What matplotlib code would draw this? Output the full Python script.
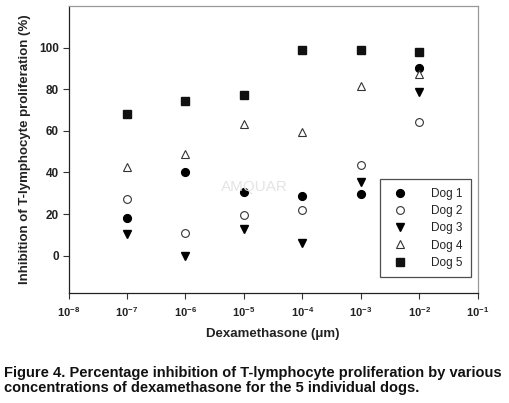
import matplotlib
matplotlib.use("Agg")
import matplotlib.pyplot as plt
from matplotlib import font_manager

# Dexamethasone concentrations (um) and % inhibition per dog
conc = [1e-7, 1e-6, 1e-5, 1e-4, 1e-3, 1e-2]
dog1 = [18.2, 40.2, 30.4, 28.6, 29.6, 90.4]
dog2 = [27.2, 11.0, 19.4, 22.1, 43.8, 64.2]
dog3 = [10.4, -0.2, 12.8, 5.9, 35.5, 78.6]
dog4 = [42.4, 48.8, 63.2, 59.4, 81.8, 87.5]
dog5 = [68.0, 74.4, 77.3, 98.9, 99.0, 98.1]

x_ticks = [1e-8, 1e-7, 1e-6, 1e-5, 1e-4, 1e-3, 1e-2, 1e-1]
x_tick_labels = ["$10^{-8}$", "$10^{-7}$", "$10^{-6}$", "$10^{-5}$",
                 "$10^{-4}$", "$10^{-3}$", "$10^{-2}$", "$10^{-1}$"]
y_ticks = [0, 20, 40, 60, 80, 100]

names = {f.name for f in font_manager.fontManager.ttflist}
base_font = "Liberation Sans" if "Liberation Sans" in names else "DejaVu Sans"
caption_font = "Liberation Sans Narrow" if "Liberation Sans Narrow" in names else base_font
plt.rcParams["font.family"] = base_font
plt.rcParams["mathtext.fontset"] = "custom"
plt.rcParams["mathtext.rm"] = base_font + ":bold"
plt.rcParams["mathtext.it"] = base_font + ":bold"
plt.rcParams["mathtext.bf"] = base_font + ":bold"

fig = plt.figure(figsize=(5.09, 4.03), dpi=100)
ax = fig.add_axes([0.1346, 0.273, 0.8044, 0.713])

ms = 5.6
ax.plot(conc, dog1, "o", color="black", ms=ms, label="Dog 1")
ax.plot(conc, dog2, "o", mfc="white", mec="#333333", mew=0.8, ms=ms, label="Dog 2")
ax.plot(conc, dog3, "v", color="black", ms=ms + 0.5, label="Dog 3")
ax.plot(conc, dog4, "^", mfc="white", mec="#333333", mew=0.8, ms=ms + 0.5, label="Dog 4")
ax.plot(conc, dog5, "s", color="#111111", ms=ms, label="Dog 5")

ax.set_xscale("log")
ax.set_xlim(1e-8, 1e-1)
ax.set_ylim(-18, 120.3)
ax.set_xticks(x_ticks)
ax.set_xticklabels(x_tick_labels)
ax.minorticks_off()
ax.set_yticks(y_ticks)
ax.tick_params(axis="both", direction="out", length=4, width=0.8, color="#333333",
               labelsize=8.5, pad=3)
ax.tick_params(axis="x", pad=5)
for lab in ax.get_yticklabels():
    lab.set_fontweight("bold")
    lab.set_color("#222222")
for lab in ax.get_xticklabels():
    lab.set_color("#222222")
    lab.set_fontsize(8)

ax.spines["left"].set_color("#222222")
ax.spines["bottom"].set_color("#222222")
ax.spines["top"].set_color("#999999")
ax.spines["right"].set_color("#999999")
for s in ax.spines.values():
    s.set_linewidth(0.9)

ax.set_xlabel("Dexamethasone (\u03bcm)", fontsize=9.5, fontweight="bold",
              color="#222222", labelpad=6)
ax.set_ylabel("Inhibition of T-lymphocyte proliferation (%)", fontsize=9.5,
              fontweight="bold", color="#222222", labelpad=6)

leg = ax.legend(loc="lower right", bbox_to_anchor=(0.982, 0.055), frameon=True,
                fancybox=False, edgecolor="#222222", fontsize=8.5,
                handletextpad=1.6, borderpad=0.7, labelspacing=0.45,
                borderaxespad=0)
leg.get_frame().set_linewidth(0.9)
for t in leg.get_texts():
    t.set_color("#222222")

ax.text(0.455, 0.37, "AMQUAR", transform=ax.transAxes, fontsize=11,
        color="#e4e4e4", ha="center", va="center")

fig.text(0.008, 0.055, "Figure 4. Percentage inhibition of T-lymphocyte proliferation by various\n"
         "concentrations of dexamethasone for the 5 individual dogs.",
         fontsize=10.5, fontweight="bold", family=caption_font, color="#111111",
         ha="left", va="center", linespacing=1.12)

fig.savefig("out.png", dpi=100)
